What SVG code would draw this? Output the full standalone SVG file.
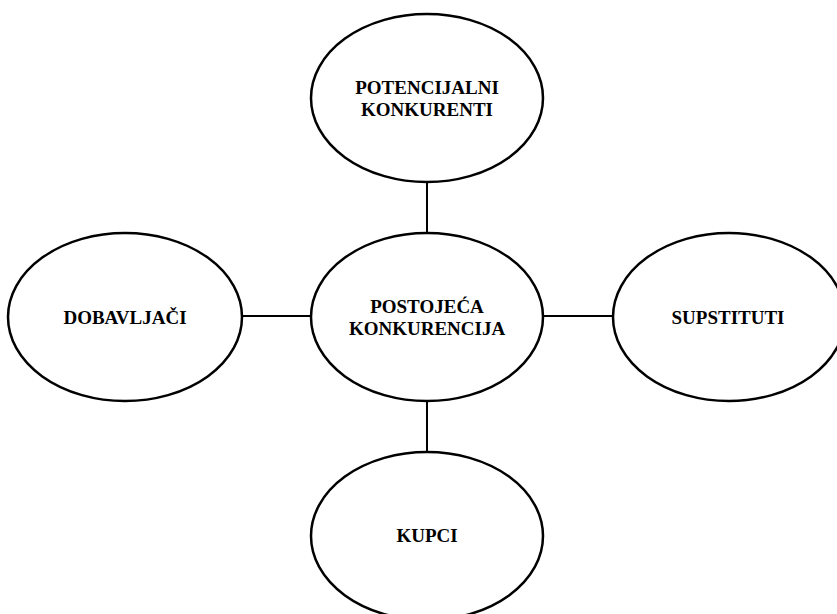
<svg xmlns="http://www.w3.org/2000/svg" width="837" height="614" viewBox="0 0 837 614">
  <style>
    .node ellipse { fill: #ffffff; stroke: #000000; stroke-width: 2.5; }
    .node text { font-family: "Liberation Serif", "DejaVu Serif", serif; font-weight: bold; font-size: 19px; fill: #000000; text-anchor: middle; }
    .conn line { stroke: #000000; stroke-width: 2; }
  </style>
  <rect x="0" y="0" width="837" height="614" fill="#ffffff"/>
  <g id="connectors" class="conn">
    <line x1="427" y1="181" x2="427" y2="234"/>
    <line x1="427" y1="400" x2="427" y2="453"/>
    <line x1="242" y1="316" x2="311" y2="316"/>
    <line x1="543" y1="316" x2="613" y2="316"/>
  </g>
  <g id="potencijalni-konkurenti" class="node">
    <ellipse cx="427" cy="98" rx="116" ry="84"/>
    <text x="427" y="94">POTENCIJALNI</text>
    <text x="427" y="116">KONKURENTI</text>
  </g>
  <g id="postojeca-konkurencija" class="node">
    <ellipse cx="427" cy="317" rx="116" ry="84"/>
    <text x="427" y="313">POSTOJEĆA</text>
    <text x="427" y="335">KONKURENCIJA</text>
  </g>
  <g id="dobavljaci" class="node">
    <ellipse cx="125" cy="317" rx="117" ry="84"/>
    <text x="125" y="324">DOBAVLJAČI</text>
  </g>
  <g id="supstituti" class="node">
    <ellipse cx="729" cy="317" rx="116" ry="84"/>
    <text x="728" y="324">SUPSTITUTI</text>
  </g>
  <g id="kupci" class="node">
    <ellipse cx="427" cy="536" rx="116" ry="84"/>
    <text x="427" y="542">KUPCI</text>
  </g>
</svg>
